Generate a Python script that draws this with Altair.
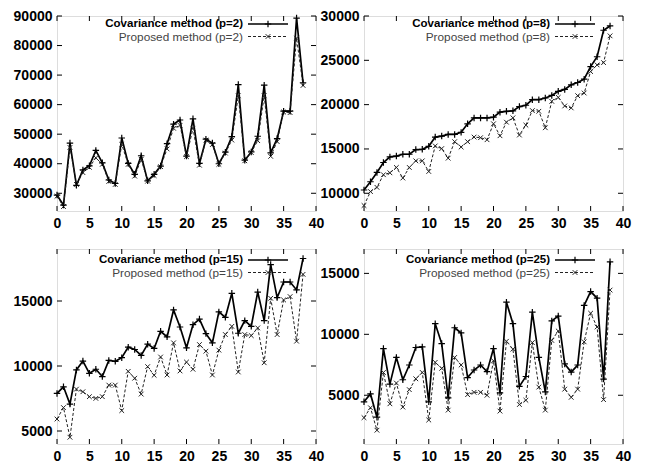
import altair as alt
import pandas as pd

X = list(range(39))

cov_p2 = [29400, 26000, 47000, 32700, 37900, 39300, 44500, 40300, 34500, 33300, 48700, 40100, 36400, 42700, 34200, 36400, 39200, 46800, 53400, 54800, 42600, 55200, 40100, 48300, 47000, 40000, 43900, 49200, 66800, 41200, 44000, 49300, 66600, 43700, 48500, 57800, 57800, 89300, 67400]
prop_p2 = [29000, 25500, 45500, 33000, 37000, 38800, 42000, 39800, 34000, 33000, 46500, 39800, 35800, 41500, 34100, 36000, 39000, 45000, 52000, 53000, 42400, 52000, 39500, 48000, 46500, 39800, 43600, 48000, 63000, 41000, 43800, 47800, 63000, 42500, 47500, 57500, 57300, 82500, 66500]

cov_p8 = [10370, 11300, 12350, 13470, 14100, 14200, 14400, 14400, 14930, 14960, 15300, 16340, 16450, 16640, 16640, 16870, 17840, 18500, 18500, 18500, 18580, 19150, 19250, 19300, 19780, 19930, 20560, 20560, 20750, 21040, 21500, 21720, 22240, 22500, 22870, 24290, 25400, 28390, 28880]
prop_p8 = [8620, 10190, 10670, 12090, 12310, 12910, 11720, 12910, 13660, 13660, 12460, 15340, 15040, 13960, 15820, 15220, 15820, 16340, 16270, 16040, 17840, 16490, 18020, 18510, 16570, 17690, 19330, 19250, 17390, 20370, 20820, 19850, 19630, 21010, 21310, 23730, 24480, 24740, 27760]

cov_p15 = [7890, 8400, 7070, 9700, 10380, 9440, 9750, 9190, 10430, 10360, 10640, 11450, 11270, 10810, 11680, 11350, 12670, 12240, 14310, 13000, 11400, 13180, 13610, 12490, 11780, 14160, 13740, 15590, 12520, 13490, 13050, 15690, 13490, 17800, 15260, 16460, 16460, 15850, 18270]
prop_p15 = [5920, 6800, 4520, 8220, 8020, 7640, 7510, 7640, 8530, 8530, 6570, 9590, 9060, 7840, 9950, 9290, 10690, 9310, 11780, 9620, 10300, 9750, 11650, 11140, 9310, 11220, 12420, 13050, 9540, 12420, 12340, 12930, 10250, 15210, 12420, 15080, 15340, 11910, 17050]

cov_p25 = [4460, 5110, 3200, 8830, 5910, 8100, 6270, 7480, 8920, 8970, 4460, 10870, 9240, 4780, 10540, 10110, 6450, 7070, 7480, 6940, 8830, 5190, 12640, 10870, 5730, 6540, 11820, 8100, 5270, 11100, 11500, 7570, 6900, 7480, 12370, 13510, 12970, 6330, 15950]
prop_p25 = [3160, 3970, 2130, 6870, 4300, 6000, 4030, 5460, 6350, 6870, 2970, 7700, 7210, 3780, 8100, 7480, 5050, 5240, 5240, 5000, 7830, 3700, 9430, 8780, 4240, 4590, 9320, 5670, 3780, 9500, 10270, 5500, 4830, 5500, 9380, 11730, 10600, 4640, 13630]

x_ticks = [0, 5, 10, 15, 20, 25, 30, 35, 40]
panels = [
    ("2", cov_p2, prop_p2, [24000, 90000], [30000, 40000, 50000, 60000, 70000, 80000, 90000], 8),
    ("8", cov_p8, prop_p8, [8000, 30000], [10000, 15000, 20000, 25000, 30000], 8),
    ("15", cov_p15, prop_p15, [4000, 19000], [5000, 10000, 15000], 11),
    ("25", cov_p25, prop_p25, [1000, 17000], [5000, 10000, 15000], 11),
]

W, H = 259, 195
FONT = "Liberation Sans"
PLUS = "M-1,0L1,0M0,-1L0,1"
TIMES = "M-1,-1L1,1M-1,1L1,-1"


def panel(p, cov, prop, ydom, yticks, ly):
    xs = alt.Scale(domain=[0, 40], nice=False)
    ys = alt.Scale(domain=ydom, nice=False, zero=False)
    xax = alt.Axis(values=x_ticks, ticks=False, domain=False, grid=False, title=None,
                   labelFont=FONT, labelFontSize=14, labelFontWeight="bold", labelColor="black",
                   labelPadding=5, labelFlush=False, format="d")
    yax = alt.Axis(values=yticks, ticks=False, domain=False, grid=False, title=None,
                   labelFont=FONT, labelFontSize=14, labelFontWeight="bold", labelColor="black",
                   labelPadding=5, labelFlush=False, format="d")
    dcov = pd.DataFrame({"x": X, "y": cov})
    dprop = pd.DataFrame({"x": X, "y": prop})
    ex = alt.X("x:Q", scale=xs, axis=xax)
    ey = alt.Y("y:Q", scale=ys, axis=yax)

    line_prop = alt.Chart(dprop).mark_line(color="#222222", strokeWidth=1, strokeDash=[3, 2]).encode(x=ex, y=ey)
    pts_prop = alt.Chart(dprop).mark_point(shape=TIMES, size=22, filled=False, color="#222222", strokeWidth=1, opacity=1).encode(x=ex, y=ey)
    line_cov = alt.Chart(dcov).mark_line(color="black", strokeWidth=1.7).encode(x=ex, y=ey)
    pts_cov = alt.Chart(dcov).mark_point(shape=PLUS, size=42, filled=False, color="black", strokeWidth=1.2, opacity=1).encode(x=ex, y=ey)

    dxt = pd.DataFrame({"x": x_ticks})
    dyt = pd.DataFrame({"y": yticks})
    tick_top = alt.Chart(dxt).mark_rule(color="black").encode(x=ex, y=alt.value(0), y2=alt.value(5))
    tick_bot = alt.Chart(dxt).mark_rule(color="black").encode(x=ex, y=alt.value(H - 5), y2=alt.value(H))
    tick_l = alt.Chart(dyt).mark_rule(color="black").encode(y=ey, x=alt.value(0), x2=alt.value(5))
    tick_r = alt.Chart(dyt).mark_rule(color="black").encode(y=ey, x=alt.value(W - 5), x2=alt.value(W))

    lab_cov = pd.DataFrame({"t": [f"Covariance method (p={p})"]})
    lab_prop = pd.DataFrame({"t": [f"Proposed method (p={p})"]})
    y1, y2 = ly, ly + 12.5
    t1 = alt.Chart(lab_cov).mark_text(align="right", baseline="middle", font=FONT, fontSize=11.5, fontWeight="bold", color="black").encode(
        x=alt.value(W - 73), y=alt.value(y1), text="t:N")
    t2 = alt.Chart(lab_prop).mark_text(align="right", baseline="middle", font=FONT, fontSize=11.8, color="#444444").encode(
        x=alt.value(W - 73), y=alt.value(y2), text="t:N")
    s1 = alt.Chart(lab_cov).mark_rule(color="black", strokeWidth=1.7).encode(x=alt.value(W - 68), x2=alt.value(W - 28), y=alt.value(y1))
    s2 = alt.Chart(lab_prop).mark_rule(color="#222222", strokeWidth=1, strokeDash=[3, 2]).encode(x=alt.value(W - 68), x2=alt.value(W - 28), y=alt.value(y2))
    m1 = alt.Chart(lab_cov).mark_point(shape=PLUS, size=42, filled=False, color="black", strokeWidth=1.2, opacity=1).encode(x=alt.value(W - 48), y=alt.value(y1))
    m2 = alt.Chart(lab_prop).mark_point(shape=TIMES, size=22, filled=False, color="#222222", strokeWidth=1, opacity=1).encode(x=alt.value(W - 48), y=alt.value(y2))

    return alt.layer(line_cov, line_prop, pts_prop, pts_cov, tick_top, tick_bot, tick_l, tick_r,
                     t1, t2, s1, s2, m1, m2).properties(width=W, height=H)


charts = [panel(*pp) for pp in panels]
chart = alt.concat(*charts, columns=2, spacing={"row": 38, "column": 48}, bounds="flush").properties(
    padding={"left": 4, "top": 0, "right": 5, "bottom": 0}).configure_view(
    stroke="black", strokeWidth=1.2).configure(background="white")

chart.save("out.html", embed_options={"renderer": "svg", "actions": False})
